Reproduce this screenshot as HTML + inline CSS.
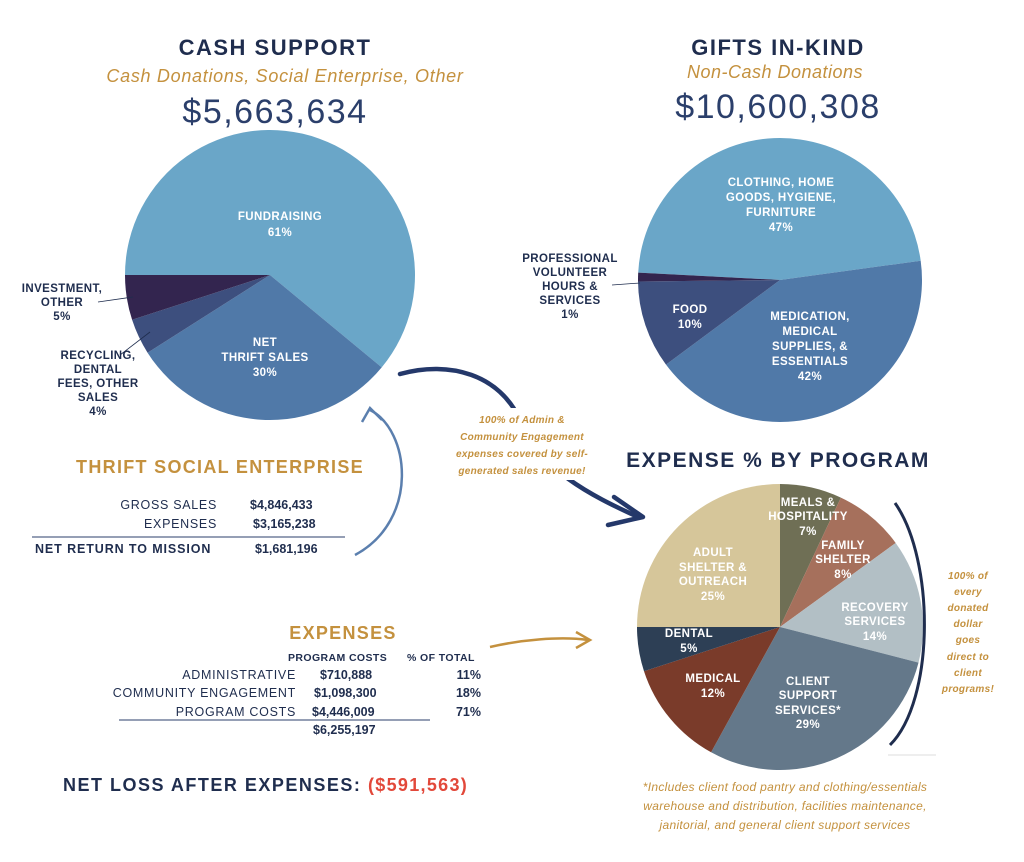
<!DOCTYPE html>
<html><head><meta charset="utf-8"><style>
body{margin:0;width:1024px;height:862px;background:#fff;overflow:hidden}
svg{display:block}
text{font-family:"Liberation Sans",sans-serif}
.h{font-weight:bold;fill:#1f2d4e}
.w{font-weight:bold;fill:#fff;font-size:11.5px;text-anchor:middle;letter-spacing:0.4px}
.n{font-weight:bold;fill:#1f2d4e;font-size:11.5px;text-anchor:middle;letter-spacing:0.4px}
.g{font-style:italic;font-weight:bold;fill:#c4913e;font-size:10px;text-anchor:middle;letter-spacing:0.3px}
.r{fill:#1f2d4e;font-size:12.5px;text-anchor:end}
.b{fill:#1f2d4e;font-size:12.5px;font-weight:bold}
</style></head><body>
<svg id="s" width="1024" height="862" viewBox="0 0 1024 862">
<g id="pies"></g>
<text x="275" y="55" class="h" font-size="22" text-anchor="middle" letter-spacing="1.5">CASH SUPPORT</text>
<text x="285" y="82" font-size="18" font-style="italic" fill="#c4913e" text-anchor="middle" letter-spacing="0.7">Cash Donations, Social Enterprise, Other</text>
<text x="275" y="123" font-size="34" fill="#2b3f6b" text-anchor="middle" letter-spacing="1.5">$5,663,634</text>
<text x="778" y="55" class="h" font-size="22" text-anchor="middle" letter-spacing="1.5">GIFTS IN-KIND</text>
<text x="775" y="78" font-size="18" font-style="italic" fill="#c4913e" text-anchor="middle" letter-spacing="0.5">Non-Cash Donations</text>
<text x="778" y="118" font-size="34" fill="#2b3f6b" text-anchor="middle" letter-spacing="1.5">$10,600,308</text>

<text x="280" y="220" class="w">FUNDRAISING</text><text x="280" y="236" class="w">61%</text>
<text x="265" y="346" class="w">NET</text><text x="265" y="361" class="w">THRIFT SALES</text><text x="265" y="376" class="w">30%</text>
<text x="62" y="292" class="n">INVESTMENT,</text><text x="62" y="306" class="n">OTHER</text><text x="62" y="320" class="n">5%</text>
<line x1="98" y1="302" x2="133" y2="297" stroke="#1f2d4e" stroke-width="0.8"/>
<text x="98" y="359" class="n">RECYCLING,</text><text x="98" y="373" class="n">DENTAL</text><text x="98" y="387" class="n">FEES, OTHER</text><text x="98" y="401" class="n">SALES</text><text x="98" y="415" class="n">4%</text>
<line x1="120" y1="355" x2="150" y2="332" stroke="#1f2d4e" stroke-width="0.8"/>

<text x="781" y="186" class="w">CLOTHING, HOME</text><text x="781" y="201" class="w">GOODS, HYGIENE,</text><text x="781" y="216" class="w">FURNITURE</text><text x="781" y="231" class="w">47%</text>
<text x="570" y="262" class="n">PROFESSIONAL</text><text x="570" y="276" class="n">VOLUNTEER</text><text x="570" y="290" class="n">HOURS &amp;</text><text x="570" y="304" class="n">SERVICES</text><text x="570" y="318" class="n">1%</text>
<line x1="612" y1="285" x2="640" y2="283" stroke="#1f2d4e" stroke-width="0.8"/>
<text x="690" y="313" class="w">FOOD</text><text x="690" y="328" class="w">10%</text>
<text x="810" y="320" class="w">MEDICATION,</text><text x="810" y="335" class="w">MEDICAL</text><text x="810" y="350" class="w">SUPPLIES, &amp;</text><text x="810" y="365" class="w">ESSENTIALS</text><text x="810" y="380" class="w">42%</text>

<text x="808" y="506" class="w">MEALS &amp;</text><text x="808" y="520" class="w">HOSPITALITY</text><text x="808" y="535" class="w">7%</text>
<text x="843" y="549" class="w">FAMILY</text><text x="843" y="563" class="w">SHELTER</text><text x="843" y="578" class="w">8%</text>
<text x="875" y="611" class="w">RECOVERY</text><text x="875" y="625" class="w">SERVICES</text><text x="875" y="640" class="w">14%</text>
<text x="808" y="685" class="w">CLIENT</text><text x="808" y="699" class="w">SUPPORT</text><text x="808" y="714" class="w">SERVICES*</text><text x="808" y="728" class="w">29%</text>
<text x="713" y="682" class="w">MEDICAL</text><text x="713" y="697" class="w">12%</text>
<text x="689" y="637" class="w">DENTAL</text><text x="689" y="652" class="w">5%</text>
<text x="713" y="556" class="w">ADULT</text><text x="713" y="571" class="w">SHELTER &amp;</text><text x="713" y="585" class="w">OUTREACH</text><text x="713" y="600" class="w">25%</text>

<text x="778" y="467" class="h" font-size="21" text-anchor="middle" letter-spacing="1.5">EXPENSE % BY PROGRAM</text>

<path d="M400,374 C450,360 500,375 520,420 C540,470 590,495 638,517" stroke="#24386a" stroke-width="4.5" fill="none" stroke-linecap="round"/>
<path d="M614,497 L643,517 L608,525" stroke="#24386a" stroke-width="4.5" fill="none" stroke-linecap="round" stroke-linejoin="round"/>
<rect x="447" y="408" width="150" height="72" fill="#fff"/>
<text x="522" y="423" class="g">100% of Admin &amp;</text><text x="522" y="440" class="g">Community Engagement</text><text x="522" y="457" class="g">expenses covered by self-</text><text x="522" y="474" class="g">generated sales revenue!</text>

<g class="g"><text x="968" y="579">100% of</text><text x="968" y="595">every</text><text x="968" y="611">donated</text><text x="968" y="627">dollar</text><text x="968" y="643">goes</text><text x="968" y="660">direct to</text><text x="968" y="676">client</text><text x="968" y="692">programs!</text></g>
<path d="M895,503 C935,560 935,700 890,745" stroke="#1f2d4e" stroke-width="3" fill="none"/>
<line x1="888" y1="755" x2="936" y2="755" stroke="#ddd" stroke-width="1"/>
<g font-style="italic" fill="#c4913e" font-size="12" text-anchor="middle" letter-spacing="0.3"><text x="785" y="791">*Includes client food pantry and clothing/essentials</text><text x="785" y="810">warehouse and distribution, facilities maintenance,</text><text x="785" y="829">janitorial, and general client support services</text></g>

<path d="M370,410 C410,430 420,520 355,555" stroke="#5b7fae" stroke-width="2.5" fill="none"/>
<path d="M362,422 L370,408 L382,420" stroke="#5b7fae" stroke-width="2.5" fill="none"/>
<path d="M490,647 C520,640 560,636 588,640" stroke="#c4913e" stroke-width="2.5" fill="none"/>
<path d="M576,632 L590,640 L576,648" stroke="#c4913e" stroke-width="2.5" fill="none"/>

<text x="220" y="473" font-size="18" font-weight="bold" fill="#c4913e" text-anchor="middle" letter-spacing="1.3">THRIFT SOCIAL ENTERPRISE</text>
<text x="217" y="509" class="r" letter-spacing="0.7">GROSS SALES</text><text x="250" y="509" class="b">$4,846,433</text>
<text x="217" y="528" class="r" letter-spacing="0.7">EXPENSES</text><text x="253" y="528" class="b">$3,165,238</text>
<line x1="32" y1="537" x2="345" y2="537" stroke="#2b3f6b" stroke-width="1"/>
<text x="35" y="553" class="b" letter-spacing="0.9">NET RETURN TO MISSION</text><text x="255" y="553" class="b">$1,681,196</text>

<text x="343" y="639" font-size="18" font-weight="bold" fill="#c4913e" text-anchor="middle" letter-spacing="1.3">EXPENSES</text>
<text x="288" y="661" font-size="10.5" font-weight="bold" fill="#1f2d4e" letter-spacing="0.4">PROGRAM COSTS</text><text x="407" y="661" font-size="10.5" font-weight="bold" fill="#1f2d4e" letter-spacing="0.4">% OF TOTAL</text>
<text x="296" y="679" class="r" letter-spacing="0.7">ADMINISTRATIVE</text><text x="320" y="679" class="b">$710,888</text><text x="481" y="679" class="b" text-anchor="end">11%</text>
<text x="296" y="697" class="r" letter-spacing="0.7">COMMUNITY ENGAGEMENT</text><text x="314" y="697" class="b">$1,098,300</text><text x="481" y="697" class="b" text-anchor="end">18%</text>
<text x="296" y="716" class="r" letter-spacing="0.7">PROGRAM COSTS</text><text x="312" y="716" class="b">$4,446,009</text><text x="481" y="716" class="b" text-anchor="end">71%</text>
<line x1="119" y1="720" x2="430" y2="720" stroke="#2b3f6b" stroke-width="1"/>
<text x="313" y="734" class="b">$6,255,197</text>

<text x="63" y="791" class="h" font-size="18" letter-spacing="1.5">NET LOSS AFTER EXPENSES:</text>
<text x="368" y="791" font-size="18" font-weight="bold" fill="#e2483a" letter-spacing="1.3">($591,563)</text>
</svg>
<script>
function pie(cx,cy,r,start,sl){var g=document.getElementById('pies'),a=start,h='';
sl.forEach(function(s){var b=a+s[0]*3.6,x1=cx+r*Math.cos(a*Math.PI/180),y1=cy+r*Math.sin(a*Math.PI/180),x2=cx+r*Math.cos(b*Math.PI/180),y2=cy+r*Math.sin(b*Math.PI/180);
h+='<path d="M'+cx+','+cy+' L'+x1+','+y1+' A'+r+','+r+' 0 '+((b-a)>180?1:0)+' 1 '+x2+','+y2+' Z" fill="'+s[1]+'"/>';a=b;});g.innerHTML+=h;}
pie(270,275,145,180,[[61,'#6aa6c8'],[30,'#5079a8'],[4,'#3d4f7e'],[5,'#33254f']]);
pie(780,280,142,183,[[47,'#6aa6c8'],[42,'#5079a8'],[10,'#3d4f7e'],[1,'#33254f']]);
pie(780,627,143,270,[[7,'#6f6f55'],[8,'#a6705c'],[14,'#b2bfc5'],[29,'#64788a'],[12,'#7a3b2a'],[5,'#2d3f55'],[25,'#d6c69a']]);
</script>
</body></html>
